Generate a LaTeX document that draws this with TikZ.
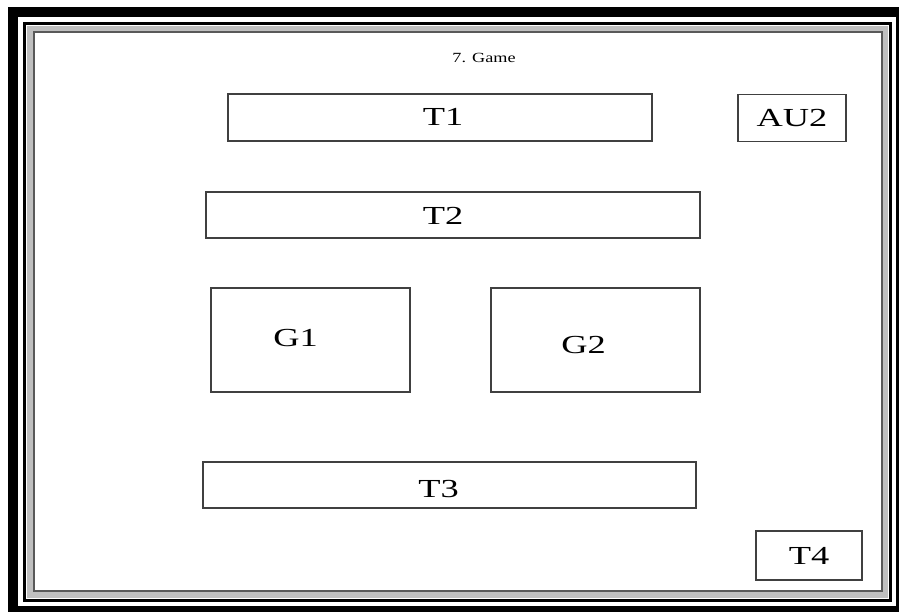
\documentclass[tikz,border=0pt]{standalone}
\usepackage{fontspec}
\setmainfont{Liberation Serif}
\newfontfamily\widefont[FakeStretch=1.4]{Liberation Serif}
\newfontfamily\titlefont[FakeStretch=1.3]{Liberation Serif}
\tikzset{
  panel/.style={draw=black!75,line width=1.3pt,inner sep=0pt},
  tag/.style={inner sep=0pt,font=\widefont\fontsize{26}{28}\selectfont},
  title/.style={inner sep=0pt,font=\titlefont\fontsize{14}{16}\selectfont}
}

\begin{document}
\begin{tikzpicture}[x=1pt,y=-1pt]
\useasboundingbox (0,0) rectangle (899,612);
% frame
\draw[black,line width=10pt] (13,12) rectangle (901,611);
\draw[black,line width=3pt] (24.5,23.5) rectangle (890.5,600);
\draw[black!25,line width=6pt] (30,29) rectangle (885,594.5);
\draw[black!65,line width=2pt] (34,32.5) rectangle (881.5,591);
% title
\node[title] (ttl) at (484,58) {7. Game};
% boxes
\node[panel,minimum width=424,minimum height=47,label={[tag,xshift=3pt,yshift=1pt]center:T1}] (t1) at (440,117.5) {};
\node[panel,minimum width=108,minimum height=47,label={[tag]center:AU2}] (au2) at (792,118) {};
\node[panel,minimum width=494,minimum height=46,label={[tag,xshift=-10pt,yshift=-1pt]center:T2}] (t2) at (453,215) {};
\node[panel,minimum width=199,minimum height=104,label={[tag,xshift=-15pt,yshift=2pt]center:G1}] (g1) at (310.5,340) {};
\node[panel,minimum width=209,minimum height=104,label={[tag,xshift=-12pt,yshift=-5pt]center:G2}] (g2) at (595.5,340) {};
\node[panel,minimum width=493,minimum height=46,label={[tag,xshift=-11pt,yshift=-4pt]center:T3}] (t3) at (449.5,485) {};
\node[panel,minimum width=106,minimum height=49,label={[tag]center:T4}] (t4) at (809,555.5) {};
\end{tikzpicture}
\end{document}
